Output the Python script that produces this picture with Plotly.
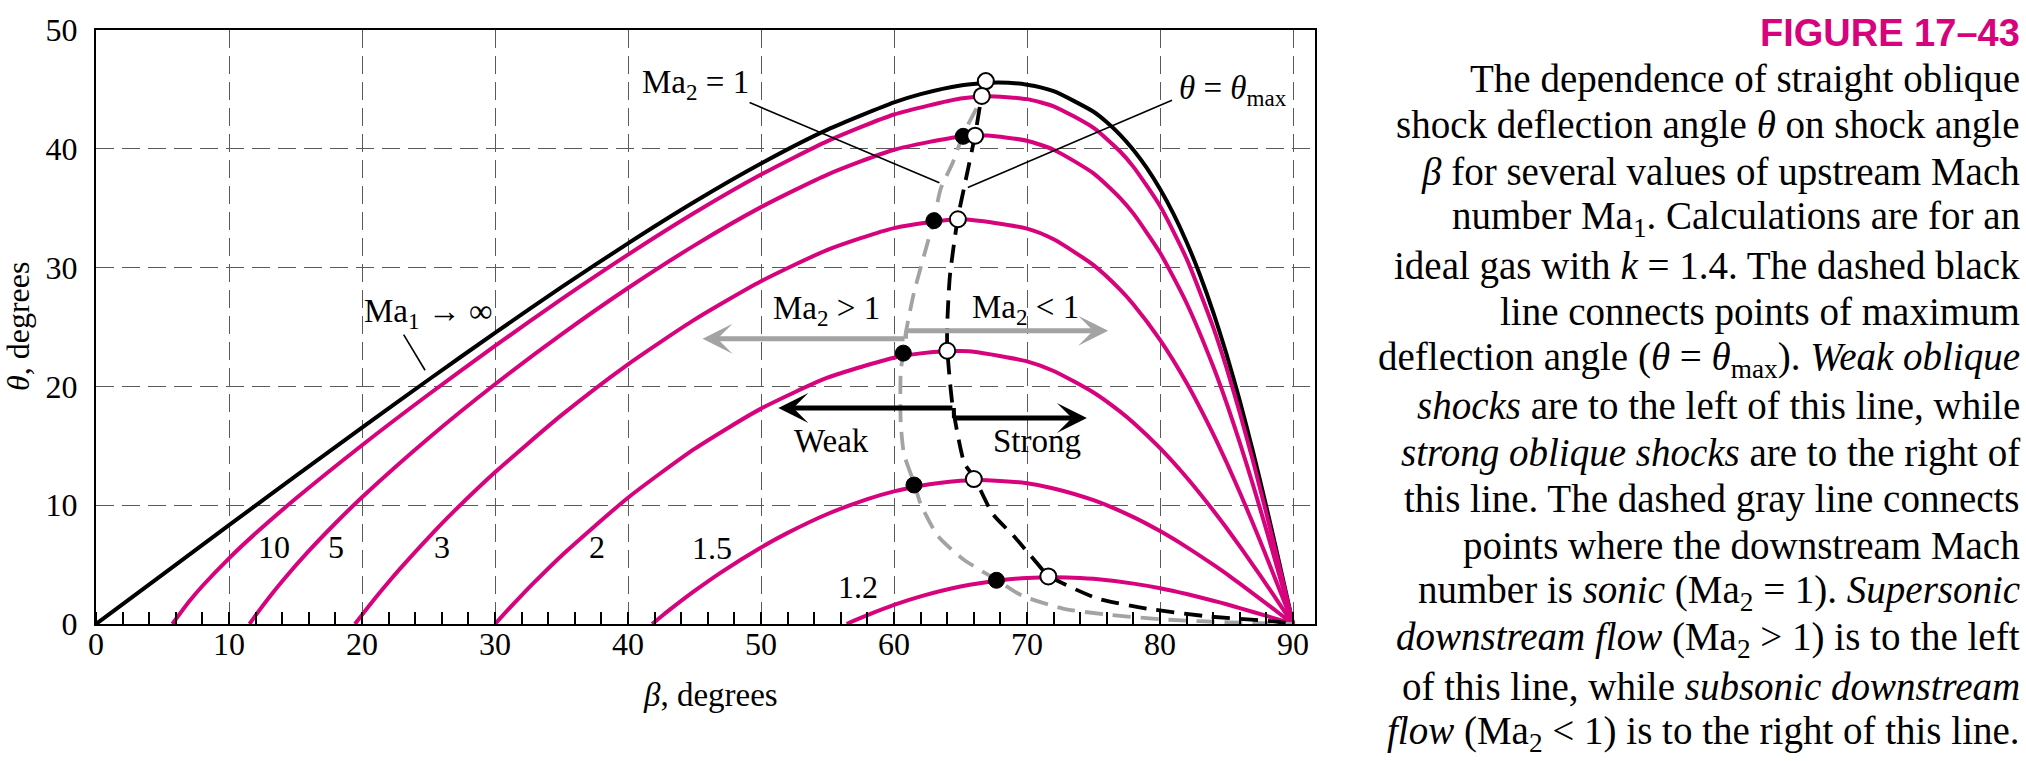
import plotly.graph_objects as go

# shock angle beta (deg) and deflection angle theta (deg)
beta_inf = [0, 5, 10, 15, 20, 25, 30, 35, 40, 45, 50, 55, 60, 62, 65, 67.8, 70, 72, 75, 76, 77, 78, 79, 80, 81, 82, 83,
            84, 85, 86, 87, 88, 89, 90]
theta_inf = [0, 4.16, 8.32, 12.44, 16.53, 20.56, 24.51, 28.35, 32.04, 35.54, 38.76, 41.61, 43.90, 44.60, 45.33, 45.58,
             45.40, 44.85, 43.12, 42.24, 41.18, 39.90, 38.39, 36.61, 34.54, 32.14, 29.38, 26.24, 22.69, 18.77, 14.45,
             9.84, 4.98, 0]

beta_10 = [5.74, 7, 8, 10, 12, 15, 20, 25, 30, 35, 40, 45, 50, 55, 60, 65, 67, 70, 72, 75, 77, 78, 80, 82, 84, 85, 86,
           87, 88, 89, 90]
theta_10 = [0, 1.89, 3.2, 5.53, 7.63, 10.54, 15.05, 19.32, 23.41, 27.34, 31.09, 34.61, 37.83, 40.65, 42.89, 44.23,
            44.43, 44.18, 43.58, 41.76, 39.77, 38.48, 35.18, 30.73, 24.97, 21.55, 17.76, 13.67, 9.29, 4.70, 0]

beta_5 = [11.54, 12, 13, 14, 16, 18, 20, 25, 30, 35, 40, 45, 50, 55, 60, 65, 67, 70, 72, 75, 77, 78, 80, 82, 84, 85, 86,
          87, 88, 89, 90]
theta_5 = [0, 0.73, 2.21, 3.60, 6.15, 8.48, 10.67, 15.64, 20.18, 24.38, 28.28, 31.87, 35.09, 37.83, 39.92, 41.04, 41.11,
           40.68, 39.92, 37.93, 35.85, 34.54, 31.25, 27.0, 21.67, 18.60, 15.25, 11.67, 7.90, 3.99, 0]

beta_3 = [19.47, 20, 21, 22, 23, 25, 27, 30, 35, 40, 45, 50, 55, 60, 65, 70, 72, 75, 77, 78, 80, 82, 84, 85, 86, 87,
          88, 89, 90]
theta_3 = [0, 0.77, 2.19, 3.54, 4.83, 7.28, 9.58, 12.77, 17.58, 21.86, 25.62, 28.85, 31.49, 33.32, 34.07, 33.28, 32.38,
           30.21, 28.15, 26.90, 23.92, 20.29, 15.99, 13.60, 11.07, 8.42, 5.67, 2.85, 0]

beta_2 = [30, 31, 32, 33, 35, 40, 45, 50, 55, 60, 62, 64, 65, 66, 70, 72, 75, 77, 78, 80, 82, 84, 85, 86, 87, 88, 89, 90]
theta_2 = [0, 1.23, 2.41, 3.56, 5.75, 10.63, 14.74, 18.13, 20.73, 22.41, 22.78, 22.96, 22.97, 22.92, 22.11, 21.30,
           19.49, 17.88, 16.94, 14.80, 12.33, 9.56, 8.08, 6.53, 4.94, 3.32, 1.66, 0]

beta_15 = [41.81, 42.5, 43, 45, 47, 50, 52, 55, 58, 60, 62, 65, 66, 67, 70, 72, 75, 78, 80, 82, 84, 85, 86, 87, 88, 89, 90]
theta_15 = [0, 0.63, 1.08, 2.78, 4.35, 6.44, 7.67, 9.26, 10.51, 11.16, 11.64, 12.05, 12.11, 12.10, 11.84, 11.41, 10.42,
            9.0, 7.82, 6.47, 4.99, 4.21, 3.39, 2.56, 1.72, 0.86, 0]

beta_12 = [56.44, 57, 58, 60, 62, 65, 68, 70, 72, 74, 75, 78, 80, 82, 84, 85, 86, 88, 89, 90]
theta_12 = [0, 0.28, 0.75, 1.61, 2.33, 3.16, 3.69, 3.88, 3.94, 3.88, 3.80, 3.40, 3.01, 2.52, 1.96, 1.66, 1.34, 0.68, 0.34, 0]

# Ma2 = 1 locus (gray dashed) and theta = theta_max locus (black dashed)
beta_sonic = [66.2, 65.2, 64.4, 63.5, 63.0, 62.5, 61.5, 60.9, 60.7, 60.5, 60.5, 60.75, 61.5, 62.0, 63.3, 65.2, 67.7,
              69.6, 72.7, 75.9, 80.6, 85.3, 90]
theta_sonic = [43.4, 41.2, 38.8, 36.6, 34.0, 32.0, 27.9, 24.6, 23.0, 21.1, 17.0, 14.3, 11.9, 10.1, 7.4, 5.45, 3.72,
               2.4, 1.3, 0.8, 0.36, 0.14, 0]
beta_max = [66.9, 66.6, 66.1, 65.3, 64.8, 64.2, 64.0, 64.0, 64.4, 65.3, 66.0, 67.4, 69.0, 70.5, 71.6, 75.3, 79.0, 83.7, 88.5, 90]
theta_max = [45.8, 44.5, 41.2, 36.9, 34.2, 29.3, 25.2, 23.2, 18.4, 13.5, 12.4, 9.3, 7.4, 5.45, 4.08, 2.15, 1.3, 0.63, 0.22, 0]

# marked points: open = theta_max, filled = sonic
open_beta = [66.9, 66.6, 66.1, 64.8, 64.0, 66.0, 71.6]
open_theta = [45.7, 44.45, 41.1, 34.07, 23.0, 12.2, 4.0]
dot_beta = [65.2, 63.0, 60.7, 61.5, 67.7]
dot_theta = [41.05, 33.95, 22.8, 11.7, 3.68]

curve_labels = ["10", "5", "3", "2", "1.5", "1.2"]
label_beta = [13.4, 18.05, 26.0, 37.65, 46.3, 57.3]
label_theta = [6.44, 6.44, 6.44, 6.44, 6.42, 3.1]

caption = [
    "The dependence of straight oblique",
    "shock deflection angle <i>θ</i> on shock angle",
    "<i>β</i> for several values of upstream Mach",
    "number Ma<sub>1</sub>. Calculations are for an",
    "ideal gas with <i>k</i> = 1.4. The dashed black",
    "line connects points of maximum",
    "deflection angle (<i>θ</i> = <i>θ</i><sub>max</sub>). <i>Weak oblique</i>",
    "<i>shocks</i> are to the left of this line, while",
    "<i>strong oblique shocks</i> are to the right of",
    "this line. The dashed gray line connects",
    "points where the downstream Mach",
    "number is <i>sonic</i> (Ma<sub>2</sub> = 1). <i>Supersonic</i>",
    "<i>downstream flow</i> (Ma<sub>2</sub> > 1) is to the left",
    "of this line, while <i>subsonic downstream</i>",
    "<i>flow</i> (Ma<sub>2</sub> < 1) is to the right of this line.",
]

MAGENTA = "#D6037D"
GRAY = "#A3A3A3"
SERIF = "Liberation Serif"

W, H = 2026, 761
L, R, T, B = 96, 1315, 13, 624


def px_x(p):
    return (p - L) / (R - L)


def px_y(p):
    return (B - p) / (B - T)


fig = go.Figure()

curves = [
    (beta_inf, theta_inf, "black"),
    (beta_10, theta_10, MAGENTA),
    (beta_5, theta_5, MAGENTA),
    (beta_3, theta_3, MAGENTA),
    (beta_2, theta_2, MAGENTA),
    (beta_15, theta_15, MAGENTA),
    (beta_12, theta_12, MAGENTA),
]
for bx, ty, col in curves:
    fig.add_trace(go.Scatter(x=bx, y=ty, mode="lines",
                             line=dict(color=col, width=4, shape="spline", smoothing=0.6)))

fig.add_trace(go.Scatter(x=beta_sonic, y=theta_sonic, mode="lines",
                         line=dict(color=GRAY, width=3.8, dash="18px,10px", shape="spline", smoothing=0.6)))
fig.add_trace(go.Scatter(x=beta_max, y=theta_max, mode="lines",
                         line=dict(color="black", width=3.8, dash="18px,10px", shape="spline", smoothing=0.6)))

fig.add_trace(go.Scatter(x=dot_beta, y=dot_theta, mode="markers",
                         marker=dict(size=16, color="black", line=dict(color="black", width=1))))
fig.add_trace(go.Scatter(x=open_beta, y=open_theta, mode="markers",
                         marker=dict(size=16, color="white", line=dict(color="black", width=2))))

ann = []
for t, bx, ty in zip(curve_labels, label_beta, label_theta):
    ann.append(dict(x=bx, y=ty, text=t, showarrow=False, font=dict(size=32),
                    xanchor="center", yanchor="middle"))

for tx, bx, ty in [
    ("Ma<sub>2</sub> = 1", 45.05, 45.4),
    ("<i>θ</i> = <i>θ</i><sub>max</sub>", 85.45, 44.9),
    ("Ma<sub>1</sub> → ∞", 25.0, 26.1),
    ("Ma<sub>2</sub> > 1", 54.95, 26.4),
    ("Ma<sub>2</sub> < 1", 69.9, 26.5),
    ("Weak", 55.27, 15.4),
    ("Strong", 70.77, 15.4),
]:
    ann.append(dict(x=bx, y=ty, text=tx, showarrow=False, font=dict(size=33),
                    xanchor="center", yanchor="middle"))

# direction arrows
for tip, tail, col in [
    ((45.6, 24.02), (60.9, 24.02), GRAY),
    ((76.1, 24.68), (60.9, 24.68), GRAY),
    ((51.3, 18.18), (64.5, 18.18), "black"),
    ((74.5, 17.33), (64.5, 17.33), "black"),
]:
    ann.append(dict(x=tip[0], y=tip[1], ax=tail[0], ay=tail[1], xref="x", yref="y", axref="x", ayref="y",
                    text="", showarrow=True, arrowhead=3, arrowsize=1, arrowwidth=5, arrowcolor=col,
                    standoff=0, startstandoff=0))

# axis titles
ann.append(dict(x=px_x(710), y=px_y(697), xref="paper", yref="paper", text="<i>β</i>, degrees",
                xanchor="center", yanchor="middle", showarrow=False, font=dict(size=33)))
ann.append(dict(x=px_x(18), y=0.5, xref="paper", yref="paper", text="<i>θ</i>, degrees", textangle=-90,
                xanchor="center", yanchor="middle", showarrow=False, font=dict(size=32)))

# caption
ann.append(dict(x=px_x(2022), y=px_y(16), xref="paper", yref="paper", xanchor="right", yanchor="middle",
                text="<b>FIGURE 17–43</b>", showarrow=False,
                font=dict(size=38, color=MAGENTA, family="Liberation Sans")))
for i, line in enumerate(caption):
    base = 79 + 48.1 * i
    ann.append(dict(x=px_x(2022), y=px_y(base - 16), xref="paper", yref="paper", xanchor="right",
                    yanchor="middle", text=line, showarrow=False, font=dict(size=39)))

shapes = []
for x0, y0, x1, y1, col, w in [
    (49.14, 43.89, 63.41, 37.15, "black", 1.6),
    (80.9, 44.09, 65.55, 36.74, "black", 1.6),
    (23.13, 24.36, 24.74, 21.36, "black", 1.6),
    (60.9, 24.02, 60.9, 24.68, GRAY, 4),
    (64.5, 18.18, 64.5, 17.33, "black", 4),
]:
    shapes.append(dict(type="line", xref="x", yref="y", x0=x0, y0=y0, x1=x1, y1=y1,
                       line=dict(color=col, width=w)))

fig.update_layout(
    width=W, height=H,
    margin=dict(l=L, r=W - R, t=T, b=H - B),
    paper_bgcolor="white", plot_bgcolor="white",
    showlegend=False,
    font=dict(family=SERIF, color="black"),
    annotations=ann,
    shapes=shapes,
)
fig.update_xaxes(range=[0, 91.65], tickvals=list(range(0, 91, 10)), showgrid=True, gridcolor="#5a5a5a",
                 gridwidth=1.4, griddash="18px,8px", zeroline=False, showline=True, mirror=True,
                 linecolor="black", linewidth=2, ticks="", tickfont=dict(size=32), ticklabelstandoff=-9,
                 ticklabeloverflow="allow",
                 minor=dict(dtick=2, tick0=0, ticks="inside", ticklen=12, tickwidth=1.6, tickcolor="black",
                            showgrid=False))
fig.update_yaxes(range=[0, 50], tickvals=list(range(0, 51, 10)), showgrid=True, gridcolor="#5a5a5a",
                 gridwidth=1.4, griddash="18px,8px", zeroline=False, showline=True, mirror=True,
                 linecolor="black", linewidth=2, ticks="", tickfont=dict(size=32), ticklabelstandoff=10,
                 ticklabeloverflow="allow")

fig.write_html("out.html", config={"displayModeBar": False},
               post_script="document.body.style.margin='0px';document.body.style.overflow='hidden';")
